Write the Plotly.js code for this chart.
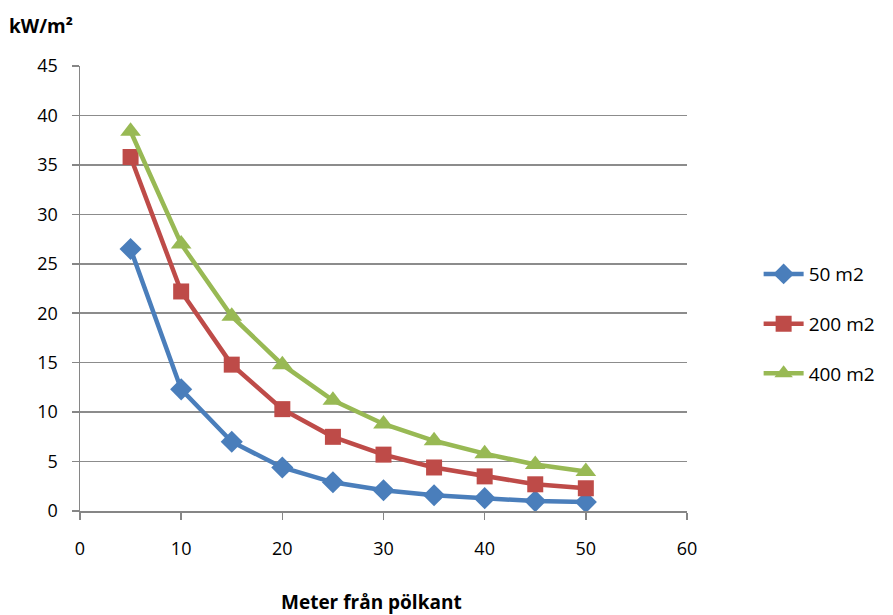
<!DOCTYPE html>
<html>
<head>
<meta charset="utf-8">
<script src="https://cdn.plot.ly/plotly-3.0.1.min.js"></script>
<style>html,body{margin:0;padding:0;background:#fff;}#chart{width:893px;height:615px;}</style>
</head>
<body>
<div id="chart"></div>
<script>
const distances = [5, 10, 15, 20, 25, 30, 35, 40, 45, 50];
const area50 = [26.5, 12.3, 7.0, 4.4, 2.9, 2.1, 1.6, 1.3, 1.0, 0.9];
const area200 = [35.8, 22.2, 14.8, 10.3, 7.5, 5.7, 4.4, 3.5, 2.7, 2.3];
const area400 = [38.4, 27.0, 19.7, 14.8, 11.2, 8.8, 7.1, 5.8, 4.7, 4.0];
const seriesNames = ["50 m2", "200 m2", "400 m2"];
const yTitle = "kW/m²";
const xTitle = "Meter från pölkant";

const font = "Open Sans, Liberation Sans, DejaVu Sans, sans-serif";
const traces = [
  {x: distances, y: area50, name: seriesNames[0], legendgroup: "a", mode: "lines+markers",
   line: {color: "#4a7ebb", width: 4.5}, marker: {symbol: "diamond", size: 17, color: "#4a7ebb"}},
  {x: distances, y: area200, name: seriesNames[1], legendgroup: "b", mode: "lines+markers",
   line: {color: "#be4b48", width: 4.5}, marker: {symbol: "square", size: 16, color: "#be4b48"}},
  {x: distances, y: area400, name: seriesNames[2], legendgroup: "c", mode: "lines+markers",
   line: {color: "#98b954", width: 4.5}, marker: {symbol: "triangle-up", size: 18, color: "#98b954"}}
];

const layout = {
  width: 893, height: 615,
  margin: {l: 80, r: 206, t: 66, b: 104},
  paper_bgcolor: "#fff", plot_bgcolor: "#fff",
  font: {family: font, size: 18, color: "#000"},
  showlegend: true,
  legend: {x: 1.118, xanchor: "left", y: 0.42, yanchor: "middle", traceorder: "grouped",
           tracegroupgap: 22, font: {family: font, size: 19, color: "#000"}, itemwidth: 40,
           bgcolor: "rgba(0,0,0,0)"},
  xaxis: {range: [0, 60], dtick: 10, tick0: 0, showgrid: false, zeroline: false,
          showline: true, linecolor: "#868686", linewidth: 1.5,
          ticks: "outside", ticklen: 7, tickcolor: "#868686", tickwidth: 1.5,
          tickfont: {family: font, size: 18, color: "#000"}, ticklabelstandoff: 14},
  yaxis: {range: [0, 45], dtick: 5, tick0: 0, showgrid: true, gridcolor: "#8c8c8c", gridwidth: 1.5,
          zeroline: false, showline: true, linecolor: "#868686", linewidth: 1.5,
          ticks: "outside", ticklen: 7, tickcolor: "#868686", tickwidth: 1.5,
          tickfont: {family: font, size: 18, color: "#000"}, ticklabelstandoff: 10},
  annotations: [
    {text: "<b>" + yTitle + "</b>", xref: "paper", yref: "paper", x: -0.12, y: 1.09,
     xanchor: "left", yanchor: "middle", showarrow: false, font: {family: font, size: 19, color: "#000"}},
    {text: "<b>" + xTitle + "</b>", xref: "paper", yref: "paper", x: 0.48, y: -0.205,
     xanchor: "center", yanchor: "middle", showarrow: false, font: {family: font, size: 19, color: "#000"}}
  ]
};

Plotly.newPlot("chart", traces, layout, {displayModeBar: false, staticPlot: true});
</script>
</body>
</html>
